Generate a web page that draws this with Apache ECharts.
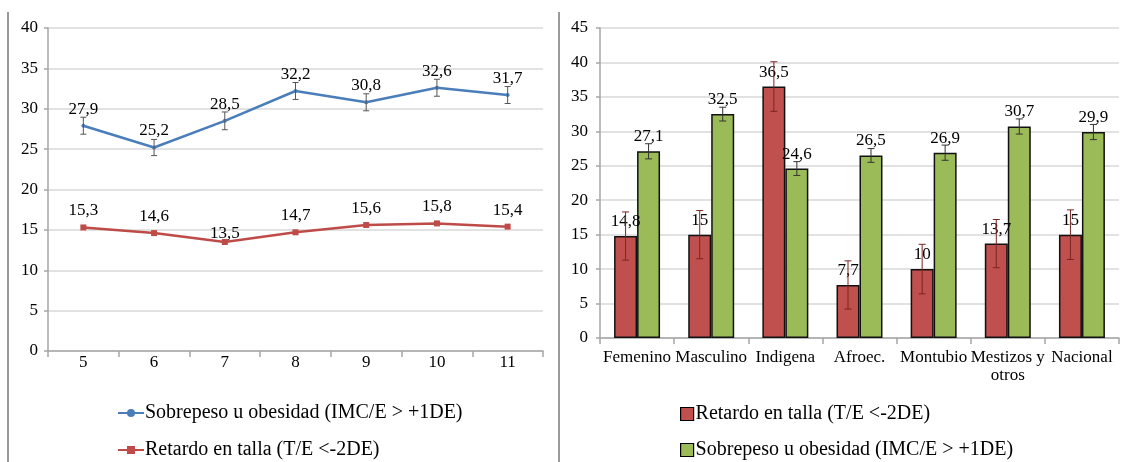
<!DOCTYPE html>
<html>
<head>
<meta charset="utf-8">
<script src="https://cdn.jsdelivr.net/npm/echarts@6/dist/echarts.min.js"></script>
<style>
  html, body { margin: 0; padding: 0; background: #fff; }
  #chart { width: 1123px; height: 462px; }
</style>
</head>
<body>
<div id="chart"></div>
<script>
// Prevalencia por edad (años)
const edades = ['5', '6', '7', '8', '9', '10', '11'];
const sobrepesoEdad = [27.9, 25.2, 28.5, 32.2, 30.8, 32.6, 31.7];
const sobrepesoEdadErr = [1.05, 1.0, 1.1, 1.05, 1.05, 1.05, 1.05];
const retardoEdad = [15.3, 14.6, 13.5, 14.7, 15.6, 15.8, 15.4];

// Prevalencia por sexo, etnia y nacional
const grupos = ['Femenino', 'Masculino', 'Indigena', 'Afroec.', 'Montubio', 'Mestizos y\notros', 'Nacional'];
const retardoGrupo = [14.8, 15, 36.5, 7.7, 10, 13.7, 15];
const retardoGrupoErr = [3.5, 3.5, 3.6, 3.5, 3.6, 3.5, 3.6];
const sobrepesoGrupo = [27.1, 32.5, 24.6, 26.5, 26.9, 30.7, 29.9];
const sobrepesoGrupoErr = [1.1, 1.0, 1.0, 1.0, 1.1, 1.1, 1.1];

const nombreSobrepeso = 'Sobrepeso u obesidad (IMC/E > +1DE)';
const nombreRetardo = 'Retardo en talla (T/E <-2DE)';
// the bar series of the second panel carry a trailing space so each panel keeps its own legend icon
const nombreSobrepesoBarra = nombreSobrepeso + ' ';
const nombreRetardoBarra = nombreRetardo + ' ';

const FONT = '"Liberation Serif", "DejaVu Serif", serif';
const BLUE = '#4A7EBB';
const RED = '#BE4B48';
const BAR_RED = '#C0504D';
const BAR_GREEN = '#9BBB59';
const GRID_COLOR = '#D9D9D9';
const AXIS_COLOR = '#A6A6A6';
const BAR_CATEGORY_GAP = 0.38;

const coma = v => String(v).replace('.', ',');

// Error bar drawn as a vertical whisker with caps; side = -1/0/+1 shifts it onto a grouped bar
function errorBars(side, color, capHalf) {
  return function (params, api) {
    const i = api.value(0), v = api.value(1), e = api.value(2);
    const mid = api.coord([i, v]);
    const hi = api.coord([i, v + e]);
    const lo = api.coord([i, v - e]);
    let x = mid[0];
    if (side !== 0) {
      const bw = api.size([1, 0])[0] * (1 - BAR_CATEGORY_GAP) / 2;
      x += side * bw / 2;
    }
    const style = { stroke: color, lineWidth: 1 };
    return {
      type: 'group',
      children: [
        { type: 'line', shape: { x1: x, y1: hi[1], x2: x, y2: lo[1] }, style },
        { type: 'line', shape: { x1: x - capHalf, y1: hi[1], x2: x + capHalf, y2: hi[1] }, style },
        { type: 'line', shape: { x1: x - capHalf, y1: lo[1], x2: x + capHalf, y2: lo[1] }, style }
      ]
    };
  };
}

const triples = (vals, errs) => vals.map((v, i) => [i, v, errs[i]]);

const axisText = { fontFamily: FONT, fontSize: 17, color: '#000' };
const legendText = { fontFamily: FONT, fontSize: 20, color: '#000' };
const valueLabel = { fontFamily: FONT, fontSize: 17, color: '#000', formatter: p => coma(p.value) };

function lineLegend(name, top) {
  return {
    data: [name], left: 112, top, itemWidth: 26, itemHeight: 10,
    textStyle: Object.assign({ padding: [0, 0, 0, -4] }, legendText)
  };
}
function barLegend(name, top) {
  return {
    data: [{ name, icon: 'rect' }], left: 675, top, itemWidth: 13, itemHeight: 13,
    formatter: n => n.trim(),
    itemStyle: { borderColor: '#000', borderWidth: 1.2 },
    textStyle: Object.assign({ padding: [0, 0, 0, -3] }, legendText)
  };
}

const option = {
  animation: false,
  backgroundColor: '#fff',
  textStyle: { fontFamily: FONT },
  graphic: [
    { type: 'line', shape: { x1: 8, y1: 12, x2: 8, y2: 462 }, style: { stroke: '#9A9A9A', lineWidth: 2 } },
    { type: 'line', shape: { x1: 559, y1: 12, x2: 559, y2: 462 }, style: { stroke: '#9A9A9A', lineWidth: 2 } }
  ],
  grid: [
    { left: 48, right: 580, top: 28, bottom: 111 },
    { left: 600, right: 4, top: 28, bottom: 124 }
  ],
  legend: [
    lineLegend(nombreSobrepeso, 398),
    lineLegend(nombreRetardo, 435),
    barLegend(nombreRetardoBarra, 399),
    barLegend(nombreSobrepesoBarra, 435)
  ],
  xAxis: [
    {
      gridIndex: 0, type: 'category', data: edades, boundaryGap: true,
      axisLine: { lineStyle: { color: AXIS_COLOR, width: 1.5 } },
      axisTick: { show: true, length: 6, lineStyle: { color: AXIS_COLOR, width: 1.5 } },
      axisLabel: Object.assign({ margin: 3 }, axisText)
    },
    {
      gridIndex: 1, type: 'category', data: grupos, boundaryGap: true,
      axisLine: { lineStyle: { color: AXIS_COLOR, width: 1.5 } },
      axisTick: { show: true, length: 6, lineStyle: { color: AXIS_COLOR, width: 1.5 } },
      axisLabel: Object.assign({ margin: 11, lineHeight: 18, interval: 0 }, axisText)
    }
  ],
  yAxis: [
    {
      gridIndex: 0, type: 'value', min: 0, max: 40, interval: 5,
      axisLine: { show: true, lineStyle: { color: AXIS_COLOR, width: 1.5 } },
      axisTick: { show: true, length: 4, lineStyle: { color: AXIS_COLOR, width: 1.5 } },
      splitLine: { lineStyle: { color: GRID_COLOR, width: 1.5 } },
      axisLabel: Object.assign({ margin: 10 }, axisText)
    },
    {
      gridIndex: 1, type: 'value', min: 0, max: 45, interval: 5,
      axisLine: { show: true, lineStyle: { color: AXIS_COLOR, width: 1.5 } },
      axisTick: { show: true, length: 4, lineStyle: { color: AXIS_COLOR, width: 1.5 } },
      splitLine: { lineStyle: { color: GRID_COLOR, width: 1.5 } },
      axisLabel: Object.assign({ margin: 12 }, axisText)
    }
  ],
  series: [
    {
      name: nombreSobrepeso, type: 'line', xAxisIndex: 0, yAxisIndex: 0,
      data: sobrepesoEdad,
      color: BLUE,
      lineStyle: { width: 2.5, color: BLUE },
      symbol: 'circle', symbolSize: 4,
      itemStyle: { color: BLUE },
      label: Object.assign({ show: true, position: 'top', distance: 6 }, valueLabel),
      z: 3
    },
    {
      name: nombreRetardo, type: 'line', xAxisIndex: 0, yAxisIndex: 0,
      // the 7-year label sits closer to its point
      data: retardoEdad.map((v, i) => i === 2
        ? { value: v, label: { distance: -3 } }
        : v),
      color: RED,
      lineStyle: { width: 2.5, color: RED },
      symbol: 'rect', symbolSize: 6,
      itemStyle: { color: RED },
      label: Object.assign({ show: true, position: 'top', distance: 5 }, valueLabel),
      z: 3
    },
    {
      type: 'custom', xAxisIndex: 0, yAxisIndex: 0,
      renderItem: errorBars(0, '#555', 3),
      data: triples(sobrepesoEdad, sobrepesoEdadErr),
      encode: { x: 0, y: 1 }, silent: true, z: 4
    },
    {
      name: nombreRetardoBarra, type: 'bar', xAxisIndex: 1, yAxisIndex: 1,
      data: retardoGrupo,
      barGap: '0%', barCategoryGap: (BAR_CATEGORY_GAP * 100) + '%',
      itemStyle: { color: BAR_RED, borderColor: '#111', borderWidth: 1.5 },
      label: Object.assign({ show: true, position: 'top', distance: 6 }, valueLabel),
      z: 2
    },
    {
      name: nombreSobrepesoBarra, type: 'bar', xAxisIndex: 1, yAxisIndex: 1,
      data: sobrepesoGrupo,
      barGap: '0%', barCategoryGap: (BAR_CATEGORY_GAP * 100) + '%',
      itemStyle: { color: BAR_GREEN, borderColor: '#111', borderWidth: 1.5 },
      label: Object.assign({ show: true, position: 'top', distance: 6 }, valueLabel),
      z: 2
    },
    {
      type: 'custom', xAxisIndex: 1, yAxisIndex: 1,
      renderItem: errorBars(-1, '#7A2522', 3.5),
      data: triples(retardoGrupo, retardoGrupoErr),
      encode: { x: 0, y: 1 }, silent: true, z: 4
    },
    {
      type: 'custom', xAxisIndex: 1, yAxisIndex: 1,
      renderItem: errorBars(1, '#333', 3.5),
      data: triples(sobrepesoGrupo, sobrepesoGrupoErr),
      encode: { x: 0, y: 1 }, silent: true, z: 4
    }
  ]
};

const chart = echarts.init(document.getElementById('chart'), null, { renderer: 'canvas' });
chart.setOption(option);
</script>
</body>
</html>
